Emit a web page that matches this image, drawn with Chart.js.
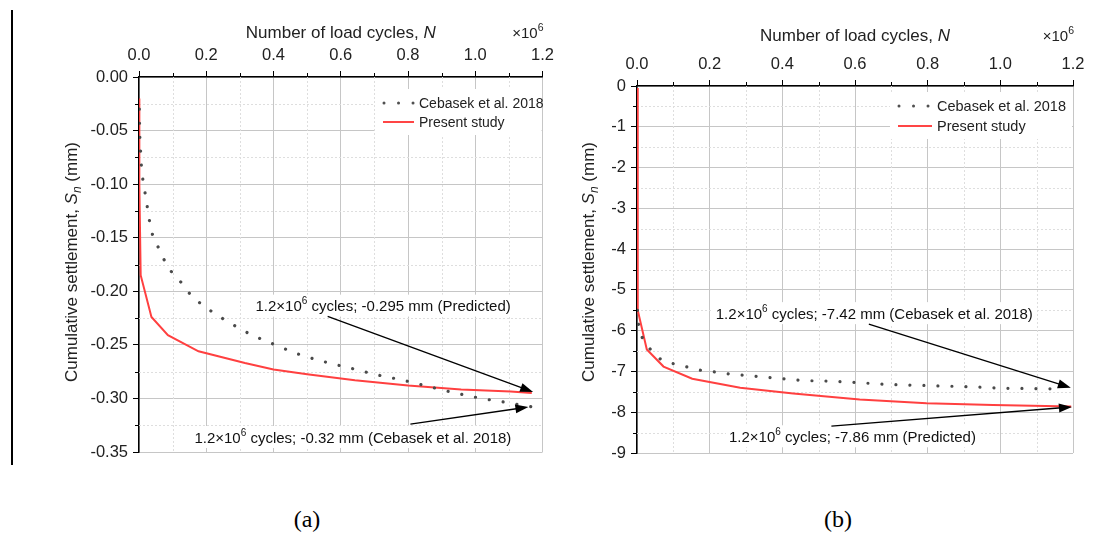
<!DOCTYPE html>
<html>
<head>
<meta charset="utf-8">
<script src="https://cdn.jsdelivr.net/npm/chart.js@4.4.1/dist/chart.umd.min.js"></script>
<style>
  html, body { margin: 0; padding: 0; background: #fff; }
  #wrap { position: relative; width: 1097px; height: 550px; overflow: hidden; }
  canvas { position: absolute; top: 0; }
  #chartA { left: 0; }
  #chartB { left: 560px; }
  .bar { position: absolute; left: 11px; top: 10px; width: 2px; height: 455px; background: #000; }
  .cap { position: absolute; top: 506px; font-family: 'Liberation Serif', 'Times New Roman', serif;
         font-size: 24px; color: #000; transform: translateX(-50%); }
</style>
</head>
<body>
<div id="wrap">
  <div class="bar"></div>
  <canvas id="chartA" width="560" height="480"></canvas>
  <canvas id="chartB" width="537" height="480"></canvas>
  <div class="cap" style="left:307px">(a)</div>
  <div class="cap" style="left:838px">(b)</div>
</div>
<script>
// ---- data (N in units of 10^6 cycles, settlement in mm) ----
const xTicks = [0, 0.2, 0.4, 0.6, 0.8, 1.0, 1.2];
const xMinor = [0.1, 0.3, 0.5, 0.7, 0.9, 1.1];

// panel (a)
const yTicksA = [0, -0.05, -0.10, -0.15, -0.20, -0.25, -0.30, -0.35];
const yMinorA = [-0.025, -0.075, -0.125, -0.175, -0.225, -0.275, -0.325];
const cebN_a = [0.001, 0.002, 0.004, 0.006, 0.010, 0.017, 0.024, 0.031, 0.040, 0.059, 0.077, 0.097, 0.126, 0.153, 0.190, 0.257, 0.331, 0.405, 0.477, 0.554, 0.632, 0.708, 0.785, 0.863, 0.942, 1.019, 1.097, 1.17];
const cebS_a = [-0.030, -0.050, -0.064, -0.078, -0.092, -0.106, -0.120, -0.134, -0.147, -0.160, -0.172, -0.182, -0.192, -0.203, -0.213, -0.227, -0.240, -0.250, -0.259, -0.266, -0.272, -0.278, -0.283, -0.289, -0.295, -0.300, -0.304, -0.308];
const presN_a = [0, 0.001, 0.005, 0.037, 0.086, 0.177, 0.315, 0.40, 0.50, 0.642, 0.80, 0.958, 1.105, 1.168];
const presS_a = [-0.020, -0.100, -0.185, -0.224, -0.241, -0.256, -0.267, -0.273, -0.2775, -0.283, -0.288, -0.2916, -0.2935, -0.295];

// panel (b)
const yTicksB = [0, -1, -2, -3, -4, -5, -6, -7, -8, -9];
const yMinorB = [-0.5, -1.5, -2.5, -3.5, -4.5, -5.5, -6.5, -7.5, -8.5];
const cebN_b = [0.001, 0.004, 0.015, 0.036, 0.065, 0.104, 0.143, 0.18, 0.22, 0.26, 0.30, 0.338, 0.377, 0.4575, 0.538, 0.618, 0.696, 0.774, 0.852, 0.93, 1.008, 1.09, 1.168];
const cebS_b = [-5.5, -5.85, -6.18, -6.45, -6.70, -6.82, -6.90, -6.98, -7.02, -7.07, -7.10, -7.13, -7.16, -7.22, -7.24, -7.28, -7.32, -7.34, -7.36, -7.38, -7.41, -7.42, -7.43];
const presN_b = [0, 0.002, 0.027, 0.073, 0.152, 0.284, 0.43, 0.613, 0.797, 0.98, 1.195];
const presS_b = [-0.05, -5.5, -6.46, -6.88, -7.18, -7.40, -7.54, -7.69, -7.78, -7.82, -7.86];

const seriesNames = ['Cebasek et al. 2018', 'Present study'];

const FONT = "'Liberation Sans', Arial, Helvetica, sans-serif";

function pts(xs, ys) { return xs.map((x, i) => ({ x: x, y: ys[i] })); }

// rich text helpers (superscripts / italics)
function measureRich(ctx, parts) {
  let w = 0;
  parts.forEach(p => {
    ctx.font = (p.style || '') + ' ' + p.size + 'px ' + FONT;
    p.w = ctx.measureText(p.t).width;
    w += p.w;
  });
  return w;
}
function drawRich(ctx, parts, x, y) {
  ctx.textAlign = 'left';
  ctx.textBaseline = 'alphabetic';
  let cx = x;
  parts.forEach(p => {
    ctx.font = (p.style || '') + ' ' + p.size + 'px ' + FONT;
    ctx.fillText(p.t, cx, y + (p.dy || 0));
    cx += p.w;
  });
}
function cyclesLabel(rest) {
  return [{ t: '1.2\u00d710', size: 15 }, { t: '6', size: 10, dy: -7 }, { t: rest, size: 15 }];
}

function arrow(ctx, x1, y1, x2, y2) {
  const a = Math.atan2(y2 - y1, x2 - x1), L = 13, H = 4.5;
  const bx = x2 - L * Math.cos(a), by = y2 - L * Math.sin(a);
  ctx.beginPath();
  ctx.moveTo(x1, y1);
  ctx.lineTo(x2 - 0.8 * L * Math.cos(a), y2 - 0.8 * L * Math.sin(a));
  ctx.stroke();
  ctx.beginPath();
  ctx.moveTo(x2, y2);
  ctx.lineTo(bx + H * Math.sin(a), by - H * Math.cos(a));
  ctx.lineTo(bx - H * Math.sin(a), by + H * Math.cos(a));
  ctx.closePath();
  ctx.fill();
}

// minor grid, minor ticks, titles, legend and annotations
const decor = {
  id: 'decor',
  beforeDatasetsDraw(chart, args, o) {
    const { ctx, chartArea: a, scales: { x, y } } = chart;
    ctx.save();
    ctx.lineWidth = 1;
    ctx.strokeStyle = '#dedede';
    ctx.setLineDash([2, 2]);
    o.minorX.forEach(v => {
      const px = Math.round(x.getPixelForValue(v)) + 0.5;
      ctx.beginPath(); ctx.moveTo(px, a.top); ctx.lineTo(px, a.bottom); ctx.stroke();
    });
    o.minorY.forEach(v => {
      const py = Math.round(y.getPixelForValue(v)) + 0.5;
      ctx.beginPath(); ctx.moveTo(a.left, py); ctx.lineTo(a.right, py); ctx.stroke();
    });
    ctx.setLineDash([]);
    ctx.strokeStyle = '#000';
    o.minorX.forEach(v => {
      const px = Math.round(x.getPixelForValue(v)) + 0.5;
      ctx.beginPath(); ctx.moveTo(px, a.top); ctx.lineTo(px, a.top - 4); ctx.stroke();
    });
    o.minorY.forEach(v => {
      const py = Math.round(y.getPixelForValue(v)) + 0.5;
      ctx.beginPath(); ctx.moveTo(a.left, py); ctx.lineTo(a.left - 4, py); ctx.stroke();
    });
    ctx.restore();
  },
  afterDraw(chart, args, o) {
    const { ctx, chartArea: a, scales: { x, y } } = chart;
    ctx.save();
    ctx.fillStyle = '#222';

    // top axis title
    const tParts = [{ t: 'Number of load cycles, ', size: 17 }, { t: 'N', size: 17, style: 'italic' }];
    const tw = measureRich(ctx, tParts);
    drawRich(ctx, tParts, (a.left + a.right) / 2 - tw / 2, o.titleY);
    const mParts = [{ t: '\u00d710', size: 15 }, { t: '6', size: 10.5, dy: -7 }];
    const mw = measureRich(ctx, mParts);
    drawRich(ctx, mParts, a.right - mw + 1, o.titleY);

    // left axis title (rotated)
    const yParts = [
      { t: 'Cumulative settlement, ', size: 17 },
      { t: 'S', size: 17, style: 'italic' },
      { t: 'n', size: 12, style: 'italic', dy: 4 },
      { t: ' (mm)', size: 17 }
    ];
    const yw = measureRich(ctx, yParts);
    ctx.translate(o.yTitleX, o.yTitleY);
    ctx.rotate(-Math.PI / 2);
    drawRich(ctx, yParts, -yw / 2, 6);
    ctx.setTransform(1, 0, 0, 1, 0, 0);

    // legend
    const L = o.legend;
    ctx.fillStyle = '#fff';
    ctx.fillRect(L.x - 8, L.y - 14, a.right - L.x + 7, L.dy + 27);
    ctx.lineCap = 'round';
    ctx.strokeStyle = '#505050';
    ctx.lineWidth = 3;
    ctx.setLineDash([0.01, 14.5]);
    ctx.beginPath(); ctx.moveTo(L.x + 1, L.y); ctx.lineTo(L.x + 31, L.y); ctx.stroke();
    ctx.setLineDash([]);
    ctx.lineCap = 'butt';
    ctx.strokeStyle = '#ff4545';
    ctx.lineWidth = 2;
    ctx.beginPath(); ctx.moveTo(L.x, L.y + L.dy); ctx.lineTo(L.x + L.len, L.y + L.dy); ctx.stroke();
    ctx.fillStyle = '#222';
    ctx.font = L.size + 'px ' + FONT;
    ctx.textAlign = 'left';
    ctx.textBaseline = 'middle';
    ctx.fillText(seriesNames[0], L.x + L.len + 5, L.y + 1);
    ctx.fillText(seriesNames[1], L.x + L.len + 5, L.y + L.dy + 1);

    // annotations
    o.notes.forEach(n => {
      const parts = cyclesLabel(n.text);
      const w = measureRich(ctx, parts);
      const cx = x.getPixelForValue(n.at[0]), cy = y.getPixelForValue(n.at[1]);
      ctx.fillStyle = '#fff';
      ctx.fillRect(cx - w / 2 - 3, cy - 11, w + 6, 22);
      ctx.fillStyle = '#111';
      drawRich(ctx, parts, cx - w / 2, cy + 5.5);
      ctx.strokeStyle = '#000';
      ctx.lineWidth = 1.3;
      ctx.fillStyle = '#000';
      arrow(ctx, x.getPixelForValue(n.from[0]), y.getPixelForValue(n.from[1]),
                 x.getPixelForValue(n.to[0]), y.getPixelForValue(n.to[1]));
    });
    ctx.restore();
  }
};

function makeChart(id, cfg) {
  return new Chart(document.getElementById(id), {
    type: 'line',
    data: {
      datasets: [
        {
          label: seriesNames[0],
          data: pts(cfg.cebN, cfg.cebS),
          borderColor: '#4a4a4a',
          borderWidth: 3.2,
          borderDash: [0.01, 14],
          borderCapStyle: 'round',
          cubicInterpolationMode: 'monotone',
          pointRadius: 0,
          fill: false
        },
        {
          label: seriesNames[1],
          data: pts(cfg.presN, cfg.presS),
          borderColor: '#ff4040',
          borderWidth: 2,
          tension: 0,
          pointRadius: 0,
          fill: false
        }
      ]
    },
    options: {
      responsive: false,
      animation: false,
      devicePixelRatio: 1,
      layout: { padding: cfg.padding },
      plugins: {
        legend: { display: false },
        tooltip: { enabled: false },
        decor: cfg.decor
      },
      scales: {
        x: {
          type: 'linear',
          position: 'top',
          min: 0,
          max: 1.2,
          afterBuildTicks: s => { s.ticks = xTicks.map(v => ({ value: v })); },
          afterFit: s => { s.height = cfg.xHeight; },
          ticks: {
            callback: v => v.toFixed(1),
            font: { family: FONT, size: 16.5 },
            color: '#222',
            padding: 6,
            maxRotation: 0
          },
          grid: { color: '#c6c6c6', tickColor: '#000', tickLength: 6, lineWidth: 1 },
          border: { color: '#000', width: 1.5 }
        },
        y: {
          type: 'linear',
          min: cfg.yTicks[cfg.yTicks.length - 1],
          max: 0,
          afterBuildTicks: s => { s.ticks = cfg.yTicks.map(v => ({ value: v })); },
          afterFit: s => { s.width = cfg.yWidth; },
          ticks: {
            callback: v => (Math.abs(v) < 1e-9 ? 0 : v).toFixed(cfg.dec),
            font: { family: FONT, size: 16.5 },
            color: '#222',
            padding: 5
          },
          grid: { color: '#c6c6c6', tickColor: '#000', tickLength: 6, lineWidth: 1 },
          border: { color: '#000', width: 1.5 }
        }
      }
    },
    plugins: [decor]
  });
}

makeChart('chartA', {
  cebN: cebN_a, cebS: cebS_a, presN: presN_a, presS: presS_a,
  yTicks: yTicksA, dec: 2,
  xHeight: 77, yWidth: 139,
  padding: { left: 0, top: 0, right: 14, bottom: 28 },
  decor: {
    minorX: xMinor, minorY: yMinorA,
    titleY: 38, yTitleX: 71, yTitleY: 262,
    legend: { x: 383, y: 103, dy: 19, len: 31, size: 14 },
    notes: [
      { text: ' cycles; -0.295 mm (Predicted)', at: [0.726, -0.2134], from: [0.561, -0.2234], to: [1.172, -0.294] },
      { text: ' cycles; -0.32 mm (Cebasek et al. 2018)', at: [0.636, -0.336], from: [0.807, -0.324], to: [1.158, -0.308] }
    ]
  }
});

makeChart('chartB', {
  cebN: cebN_b, cebS: cebS_b, presN: presN_b, presS: presS_b,
  yTicks: yTicksB, dec: 0,
  xHeight: 86, yWidth: 77,
  padding: { left: 0, top: 0, right: 24, bottom: 27 },
  decor: {
    minorX: xMinor, minorY: yMinorB,
    titleY: 41, yTitleX: 28, yTitleY: 262,
    legend: { x: 338, y: 106, dy: 20, len: 34, size: 14.5 },
    notes: [
      { text: ' cycles; -7.42 mm (Cebasek et al. 2018)', at: [0.653, -5.57], from: [0.638, -5.84], to: [1.194, -7.40] },
      { text: ' cycles; -7.86 mm (Predicted)', at: [0.593, -8.59], from: [0.535, -8.34], to: [1.197, -7.87] }
    ]
  }
});
</script>
</body>
</html>
